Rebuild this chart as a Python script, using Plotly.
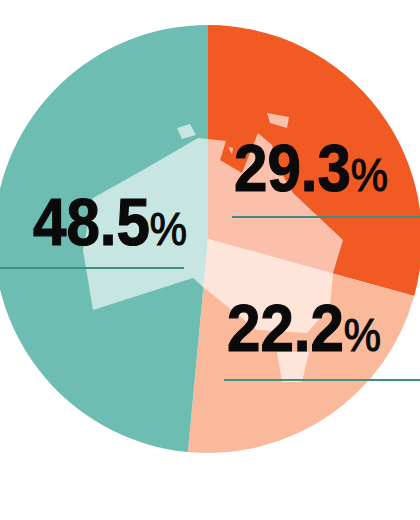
import plotly.graph_objects as go

# Data
categories = ["A", "B", "C"]
values = [29.3, 22.2, 48.5]
labels = ["29.3", "22.2", "48.5"]
colors = ["#F25A24", "#FBB99C", "#6DBDB3"]

W, H, OFF = 428, 520, 6
def px(x, y):
    return (x + OFF) / W, 1 - y / H

def poly(points, color="rgba(255,255,255,0.62)"):
    parts = []
    for i, (x, y) in enumerate(points):
        a, b = px(x, y)
        parts.append(("M" if i == 0 else "L") + f"{a:.4f},{b:.4f}")
    return dict(type="path", xref="paper", yref="paper", path=" ".join(parts) + " Z",
                fillcolor=color, line=dict(width=0), layer="above")

main_land = [(198,138),(226,141),(220,160),(242,173),(258,133),(272,145),(277,165),(293,193),
             (343,240),(333,273),(330,307),(307,333),(257,330),(203,287),(193,278),(93,310),
             (83,250),(93,198),(143,170)]
islands = [
    [(177,128),(190,124),(196,135),(182,139)],
    [(267,113),(289,117),(287,128),(270,123)],
    [(228,147),(233,148),(232,154)],
    [(277,352),(309,352),(302,382),(282,382)],
]
shapes = [poly(main_land)] + [poly(p) for p in islands]

rules = [(-6, 184, 268), (232, 422, 217), (224, 422, 380)]
for x0, x1, y in rules:
    a0, b = px(x0, y)
    a1, _ = px(x1, y)
    shapes.append(dict(type="line", xref="paper", yref="paper", x0=a0, x1=a1, y0=b, y1=b,
                       line=dict(color="#3F8F80", width=2), layer="above"))

text_pos = [(232, 194), (225, 354), (31, 248)]
annotations = []
for lab, (x, y) in zip(labels, text_pos):
    a, b = px(x, y)
    annotations.append(dict(
        x=a, y=b, xref="paper", yref="paper", xanchor="left", yanchor="bottom",
        showarrow=False, align="left", yshift=-13,
        text=f"<b>{lab}</b><span style='font-size:46px'>%</span>",
        font=dict(family="Liberation Sans", size=66, color="#0A0A0A"),
    ))

fig = go.Figure(go.Pie(
    labels=categories, values=values, sort=False, direction="clockwise", rotation=0,
    marker=dict(colors=colors, line=dict(width=0)), textinfo="none", hoverinfo="skip",
    showlegend=False, domain=dict(x=[0, 1], y=[(H - 453) / H, (H - 25) / H]),
))
fig.update_layout(width=W, height=H, margin=dict(l=0, r=0, t=0, b=0), paper_bgcolor="white",
                  shapes=shapes, annotations=annotations, showlegend=False)
post = ("var g=document.getElementById('{plot_id}');g.style.position='fixed';g.style.left='-6px';"
        "g.style.top='0';document.body.style.overflow='hidden';"
        "var s=document.createElement('style');"
        "s.textContent='.annotation-text{transform-box:fill-box;transform-origin:left center;"
        "transform:scaleX(0.91);stroke:#0A0A0A;stroke-width:1.2px;}';"
        "document.head.appendChild(s);")
fig.write_html("out.html", post_script=post, config=dict(displayModeBar=False))
